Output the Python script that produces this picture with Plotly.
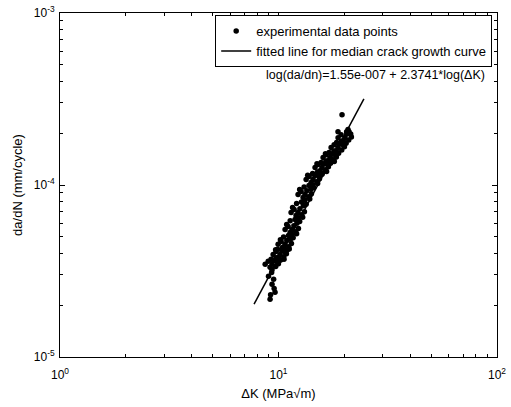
import plotly.graph_objects as go

# ---- data ----
delta_K = [
    # lower tail
    9.15, 9.64, 9.34, 9.5, 9.2, 9.55, 9.0, 9.3,
    # main band
    8.69, 8.97, 9.15, 9.34, 9.53, 9.71, 9.99, 9.34,
    9.45, 9.75, 9.96, 10.16, 10.36, 10.57, 10.87, 10.16,
    9.96, 10.28, 10.50, 10.71, 10.92, 11.14, 11.46, 10.71,
    10.72, 11.07, 11.30, 11.53, 11.76, 11.99, 12.34, 11.53,
    11.42, 11.79, 12.03, 12.28, 12.53, 12.77, 13.14, 12.28,
    12.29, 12.69, 12.96, 13.22, 13.48, 13.75, 14.15, 13.22,
    13.38, 13.81, 14.10, 14.39, 14.68, 14.97, 15.40, 14.39,
    14.70, 15.18, 15.49, 15.81, 16.13, 16.44, 16.92, 15.81,
    16.00, 16.51, 16.86, 17.20, 17.54, 17.89, 18.40, 17.20,
    17.41, 17.97, 18.35, 18.72, 19.09, 19.47, 20.03, 18.72,
    18.74, 19.34, 19.75, 20.15, 20.55, 20.96, 21.56, 20.15,
    20.5, 21.03, 21.4, 20.8,
    # in-between points
    9.25, 9.74, 10.23, 9.93,
    9.91, 10.43, 10.95, 10.64,
    10.55, 11.11, 11.67, 11.33,
    11.31, 11.90, 12.50, 12.14,
    12.10, 12.74, 13.38, 12.99,
    13.10, 13.79, 14.48, 14.07,
    14.33, 15.08, 15.83, 15.38,
    15.67, 16.49, 17.31, 16.82,
    17.04, 17.94, 18.84, 18.30,
    18.45, 19.42, 20.39, 19.81,
    # band edges
    9.7, 10.6, 10.2, 11.2, 10.9, 12.1, 11.6, 12.9,
    12.5, 13.9, 13.6, 15.1, 15.0, 16.6, 16.4, 18.0,
    # outliers near the top
    19.53, 18.72,
]
da_dN = [
    2.17e-5, 2.38e-5, 2.65e-5, 2.83e-5, 2.3e-5, 2.5e-5, 2.95e-5, 3.1e-5,
    3.46e-5, 3.60e-5, 3.32e-5, 3.46e-5, 3.63e-5, 3.36e-5, 3.49e-5, 3.22e-5,
    3.95e-5, 4.11e-5, 3.79e-5, 3.95e-5, 4.15e-5, 3.83e-5, 3.99e-5, 3.67e-5,
    4.52e-5, 4.70e-5, 4.34e-5, 4.52e-5, 4.75e-5, 4.38e-5, 4.57e-5, 4.20e-5,
    5.52e-5, 5.74e-5, 5.30e-5, 5.52e-5, 5.80e-5, 5.35e-5, 5.58e-5, 5.13e-5,
    6.93e-5, 7.21e-5, 6.65e-5, 6.93e-5, 7.28e-5, 6.72e-5, 7.00e-5, 6.44e-5,
    8.81e-5, 9.16e-5, 8.46e-5, 8.81e-5, 9.25e-5, 8.55e-5, 8.90e-5, 8.19e-5,
    1.076e-4, 1.119e-4, 1.033e-4, 1.076e-4, 1.130e-4, 1.044e-4, 1.087e-4, 1.001e-4,
    1.263e-4, 1.314e-4, 1.212e-4, 1.263e-4, 1.326e-4, 1.225e-4, 1.276e-4, 1.175e-4,
    1.443e-4, 1.501e-4, 1.385e-4, 1.443e-4, 1.515e-4, 1.400e-4, 1.457e-4, 1.342e-4,
    1.65e-4, 1.716e-4, 1.584e-4, 1.65e-4, 1.733e-4, 1.60e-4, 1.667e-4, 1.535e-4,
    1.885e-4, 1.96e-4, 1.81e-4, 1.885e-4, 1.98e-4, 1.828e-4, 1.904e-4, 1.753e-4,
    2.04e-4, 2.04e-4, 1.98e-4, 2.10e-4,
    3.70e-5, 3.77e-5, 3.66e-5, 3.59e-5,
    4.23e-5, 4.31e-5, 4.19e-5, 4.10e-5,
    4.99e-5, 5.09e-5, 4.94e-5, 4.84e-5,
    6.19e-5, 6.31e-5, 6.13e-5, 6.00e-5,
    7.81e-5, 7.97e-5, 7.73e-5, 7.58e-5,
    9.74e-5, 9.93e-5, 9.64e-5, 9.45e-5,
    1.166e-4, 1.189e-4, 1.154e-4, 1.131e-4,
    1.350e-4, 1.377e-4, 1.337e-4, 1.310e-4,
    1.543e-4, 1.574e-4, 1.528e-4, 1.497e-4,
    1.764e-4, 1.799e-4, 1.746e-4, 1.711e-4,
    4.2e-5, 3.7e-5, 4.8e-5, 4.25e-5, 5.9e-5, 5.2e-5, 7.4e-5, 6.5e-5,
    9.4e-5, 8.3e-5, 1.14e-4, 1.02e-4, 1.33e-4, 1.2e-4, 1.52e-4, 1.37e-4,
    2.56e-4, 2.04e-4,
]
fit_K = [7.73, 24.6]
fit_dadN = [2.03e-5, 3.17e-4]

x_major = [1, 10, 100]
x_major_text = ["10<sup>0</sup>", "10<sup>1</sup>", "10<sup>2</sup>"]
y_major = [1e-5, 1e-4, 1e-3]
y_major_text = ["10<sup>-5</sup>", "10<sup>-4</sup>", "10<sup>-3</sup>"]
x_minor = [2, 3, 4, 5, 6, 7, 8, 9, 20, 30, 40, 50, 60, 70, 80, 90]
y_minor = [2e-5, 3e-5, 4e-5, 5e-5, 6e-5, 7e-5, 8e-5, 9e-5,
           2e-4, 3e-4, 4e-4, 5e-4, 6e-4, 7e-4, 8e-4, 9e-4]

FONT = "Liberation Sans, Arial, sans-serif"

fig = go.Figure()
fig.add_trace(go.Scatter(
    x=delta_K, y=da_dN, mode="markers", name="experimental data points",
    marker=dict(color="black", size=5.5, line=dict(width=0)),
))
fig.add_trace(go.Scatter(
    x=fit_K, y=fit_dadN, mode="lines", name="fitted line for median crack growth curve",
    line=dict(color="black", width=1.5),
))

axis_common = dict(
    type="log", showgrid=False, zeroline=False, showline=True,
    linecolor="black", linewidth=1, mirror="allticks", automargin=False,
    ticks="inside", ticklen=5, tickcolor="black", tickwidth=1,
    tickfont=dict(family=FONT, size=12, color="black"),
)

fig.update_xaxes(
    **axis_common, range=[0, 2], tickmode="array",
    tickvals=x_major, ticktext=x_major_text, ticklabelstandoff=7,
    minor=dict(tickvals=x_minor, ticks="inside", ticklen=3, tickcolor="black", tickwidth=1),
    title=dict(text="ΔK (MPa√m)", font=dict(family=FONT, size=13, color="black"), standoff=7),
)
fig.update_yaxes(
    **axis_common, range=[-5, -3], tickmode="array",
    tickvals=y_major, ticktext=y_major_text, ticklabelstandoff=2,
    minor=dict(tickvals=y_minor, ticks="inside", ticklen=3, tickcolor="black", tickwidth=1),
    title=dict(text="da/dN (mm/cycle)", font=dict(family=FONT, size=13, color="black"), standoff=8),
)

fig.add_annotation(
    xref="paper", yref="paper", x=0.977, y=0.82, xanchor="right", yanchor="middle",
    text="log(da/dn)=1.55e-007 + 2.3741*log(ΔK)", showarrow=False,
    font=dict(family=FONT, size=12.5, color="black"),
)

fig.update_layout(
    width=511, height=407,
    margin=dict(l=60, r=14, t=13, b=50),
    paper_bgcolor="white", plot_bgcolor="white",
    font=dict(family=FONT, size=12, color="black"),
    legend=dict(
        x=0.989, y=0.994, xanchor="right", yanchor="top",
        bgcolor="white", bordercolor="black", borderwidth=1,
        font=dict(family=FONT, size=13, color="black"),
        tracegroupgap=0, itemwidth=30,
    ),
    showlegend=True,
)

fig.write_html("out.html")
